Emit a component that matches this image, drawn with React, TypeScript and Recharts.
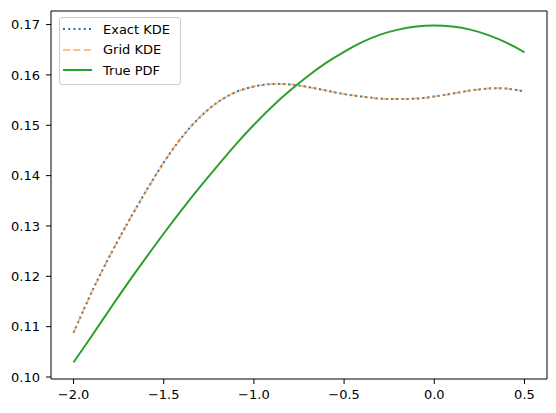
import { LineChart, Line, XAxis, YAxis, ReferenceArea } from 'recharts';

const xValues = [
    -2.0, -1.9, -1.8, -1.7, -1.6, -1.5, -1.4, -1.3, -1.2, -1.1, -1.0, -0.9, -0.8,
    -0.7, -0.6, -0.5, -0.4, -0.3, -0.2, -0.1, 0.0, 0.1, 0.2, 0.3, 0.4, 0.5,
];

const exactKde = [
    0.1088, 0.1168, 0.1240, 0.1306, 0.1368, 0.1426, 0.1476, 0.1516, 0.1546, 0.1566, 0.1577, 0.1582, 0.1581,
    0.1576, 0.1569, 0.1562, 0.1557, 0.1553, 0.1552, 0.1553, 0.1557, 0.1563, 0.1569, 0.1573, 0.1573, 0.1567,
];

const gridKde = [
    0.1088, 0.1168, 0.1240, 0.1306, 0.1368, 0.1426, 0.1476, 0.1516, 0.1546, 0.1566, 0.1577, 0.1582, 0.1581,
    0.1576, 0.1569, 0.1562, 0.1557, 0.1553, 0.1552, 0.1553, 0.1557, 0.1563, 0.1569, 0.1573, 0.1573, 0.1567,
];

const truePdf = [
    0.1029, 0.1081, 0.1134, 0.1186, 0.1236, 0.1285, 0.1332, 0.1377, 0.1420, 0.1462, 0.1501, 0.1537, 0.1569,
    0.1598, 0.1624, 0.1646, 0.1665, 0.1680, 0.1690, 0.1696, 0.1698, 0.1696, 0.1690, 0.1679, 0.1664, 0.1645,
];

const xTicks = [-2.0, -1.5, -1.0, -0.5, 0.0, 0.5];
const yTicks = [0.10, 0.11, 0.12, 0.13, 0.14, 0.15, 0.16, 0.17];

const X_DOMAIN: [number, number] = [-2.125, 0.625];
const Y_DOMAIN: [number, number] = [0.0996, 0.1727];

const data = xValues.map((x, i) => ({
    x,
    exact: exactKde[i],
    grid: gridKde[i],
    pdf: truePdf[i],
}));

// drawing order matters: the half-transparent orange sits on top of the blue dots
const series = [
    { key: 'exact', name: 'Exact KDE', color: '#1f77b4', dash: '2 3.2', opacity: 1 },
    { key: 'grid', name: 'Grid KDE', color: '#ff7f0e', dash: '7.2 3.1', opacity: 0.5 },
    { key: 'pdf', name: 'True PDF', color: '#2ca02c', dash: undefined, opacity: 1 },
];

const FONT = '"DejaVu Sans", sans-serif';
const tickStyle = { fill: '#000', fontSize: 13, fontFamily: FONT };

const fmtX = (v: number) => v.toFixed(1).replace('-', '\u2212');
const fmtY = (v: number) => v.toFixed(2);

const LegendBox = () => (
    <div
        style={{
            position: 'absolute',
            left: 59,
            top: 17,
            width: 120,
            height: 66,
            border: '1px solid #cccccc',
            borderRadius: 3,
            background: 'rgba(255,255,255,0.8)',
            fontFamily: FONT,
            fontSize: 13,
            color: '#000',
        }}
    >
        {series.map((s, i) => (
            <div
                key={s.key}
                style={{ position: 'absolute', left: 3, top: 1 + i * 20.5, height: 20, display: 'flex', alignItems: 'center' }}
            >
                <svg width={29} height={6} style={{ display: 'block' }}>
                    <line
                        x1={0}
                        y1={3}
                        x2={29}
                        y2={3}
                        stroke={s.color}
                        strokeOpacity={s.opacity}
                        strokeWidth={2}
                        strokeDasharray={s.dash}
                    />
                </svg>
                <span style={{ marginLeft: 11, whiteSpace: 'nowrap' }}>{s.name}</span>
            </div>
        ))}
    </div>
);

const App = () => {
    return (
        <div style={{ position: 'absolute', left: 0, top: 0, width: 556, height: 413, background: '#fff' }}>
            <LineChart width={556} height={413} data={data} margin={{ top: 11, right: 9, bottom: 0, left: 0 }}>
                <XAxis
                    dataKey="x"
                    type="number"
                    domain={X_DOMAIN}
                    allowDataOverflow
                    ticks={xTicks}
                    tickFormatter={fmtX}
                    tick={tickStyle}
                    tickSize={5}
                    tickMargin={6}
                    tickLine={{ stroke: '#000' }}
                    axisLine={false}
                    height={34}
                />
                <YAxis
                    type="number"
                    domain={Y_DOMAIN}
                    allowDataOverflow
                    ticks={yTicks}
                    tickFormatter={fmtY}
                    tick={tickStyle}
                    tickSize={5}
                    tickMargin={6}
                    tickLine={{ stroke: '#000' }}
                    axisLine={false}
                    width={51}
                />
                {series.map((s) => (
                    <Line
                        key={s.key}
                        dataKey={s.key}
                        name={s.name}
                        type="natural"
                        stroke={s.color}
                        strokeOpacity={s.opacity}
                        strokeWidth={2}
                        strokeDasharray={s.dash}
                        dot={false}
                        activeDot={false}
                        isAnimationActive={false}
                    />
                ))}
                <ReferenceArea
                    x1={X_DOMAIN[0]}
                    x2={X_DOMAIN[1]}
                    y1={Y_DOMAIN[0]}
                    y2={Y_DOMAIN[1]}
                    fill="none"
                    stroke="#000"
                    strokeWidth={1}
                    ifOverflow="visible"
                />
            </LineChart>
            <LegendBox />
        </div>
    );
};

export default App;
